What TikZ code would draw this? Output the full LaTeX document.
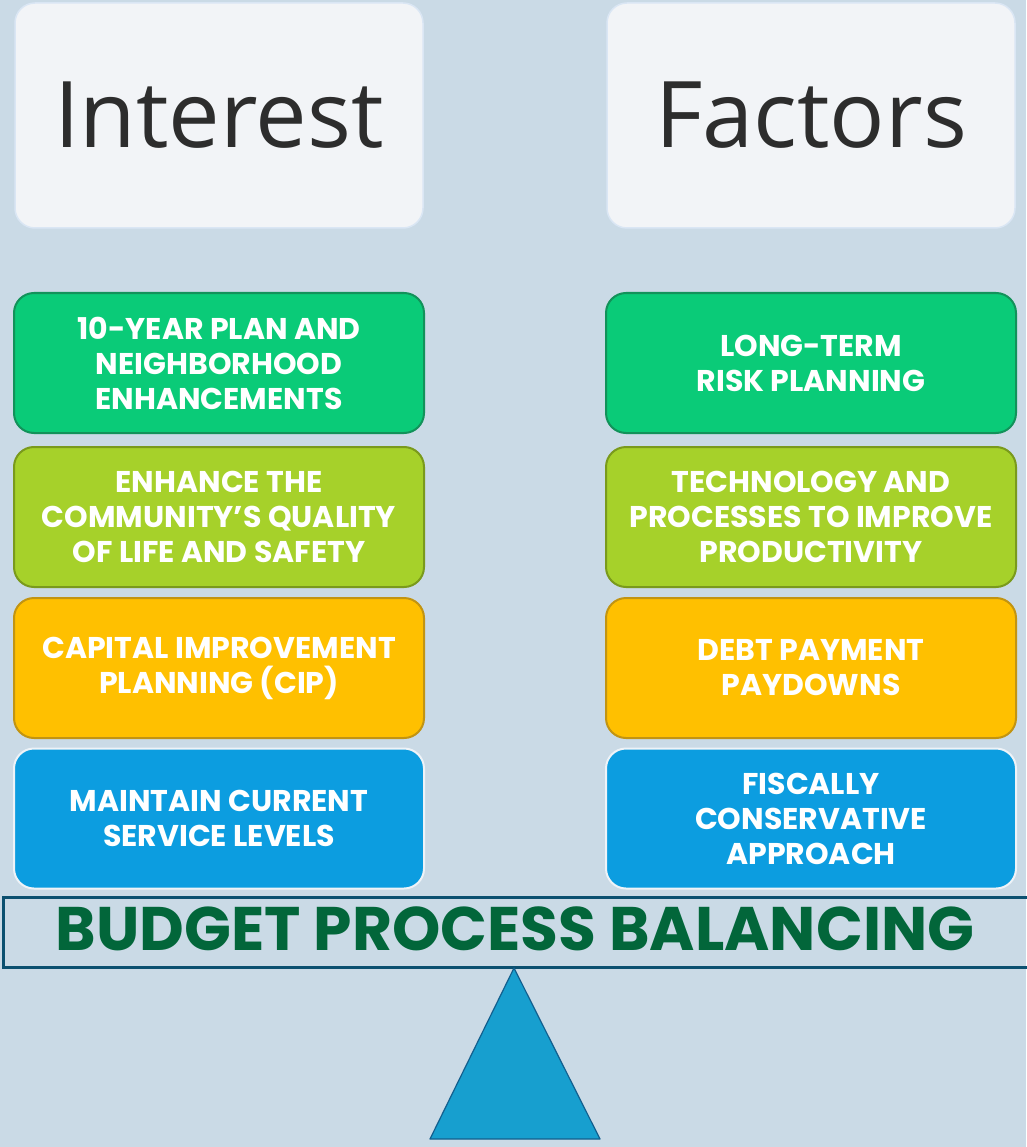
\documentclass[tikz,border=0pt]{standalone}
\usepackage{fontspec}
\setmainfont{Poppins}
\newfontfamily\headfont{Open Sans}

\definecolor{pagebg}{HTML}{CADAE6}
\definecolor{headfill}{HTML}{F2F4F7}
\definecolor{headline}{HTML}{DAE6F4}
\definecolor{headtext}{HTML}{2D2D2D}
\definecolor{greenfill}{HTML}{0ACB78}
\definecolor{greenline}{HTML}{12925A}
\definecolor{limefill}{HTML}{A6D12A}
\definecolor{limeline}{HTML}{7A9A1C}
\definecolor{amberfill}{HTML}{FFC000}
\definecolor{amberline}{HTML}{C29412}
\definecolor{bluefill}{HTML}{0C9DE0}
\definecolor{blueline}{HTML}{EEF3F8}
\definecolor{beamline}{HTML}{0B5070}
\definecolor{beamtext}{HTML}{02663A}
\definecolor{pivotfill}{HTML}{179FCF}
\definecolor{pivotline}{HTML}{125F8E}

\begin{document}
\begin{tikzpicture}[x=1pt,y=-1pt,
    head/.style={rectangle, rounded corners=20pt, fill=headfill, draw=headline, line width=1.5pt,
        minimum width=408pt, minimum height=225pt, inner sep=0pt, text=headtext,
        font=\headfont\fontsize{92}{100}\selectfont},
    box/.style={rectangle, rounded corners=20pt, line width=2pt,
        minimum width=410pt, minimum height=140pt, inner sep=0pt, align=center,
        text=white, font=\fontsize{30}{35}\selectfont\bfseries},
    greenbox/.style={box, fill=greenfill, draw=greenline},
    limebox/.style={box, fill=limefill, draw=limeline},
    amberbox/.style={box, fill=amberfill, draw=amberline},
    bluebox/.style={box, fill=bluefill, draw=blueline},
    beam/.style={rectangle, draw=beamline, line width=3pt, minimum width=1027pt,
        minimum height=70pt, inner sep=0pt},
    beamlabel/.style={text=beamtext, inner sep=0pt, font=\fontsize{61.5}{64}\selectfont\bfseries},
    pivot/.style={fill=pivotfill, draw=pivotline, line width=1.2pt, line join=round}
]
    \fill[pagebg] (0,0) rectangle (1026,1147);
    \useasboundingbox (0,0) rectangle (1026,1147);

    % headings
    \node [head] (interest) at (219,115.5) {Interest};
    \node [head] (factors) at (811,115.5) {Factors};

    % left column
    \node [greenbox] (LA) at (219,363) {10-YEAR PLAN AND\\NEIGHBORHOOD\\ENHANCEMENTS};
    \node [limebox] (LB) at (219,517) {ENHANCE THE\\COMMUNITY{\char"27}S QUALITY\\OF LIFE AND SAFETY};
    \node [amberbox] (LC) at (219,668) {CAPITAL IMPROVEMENT\\PLANNING (CIP)};
    \node [bluebox] (LD) at (219,818.5) {MAINTAIN CURRENT\\SERVICE LEVELS};

    % right column
    \node [greenbox] (RA) at (811,363) {LONG-TERM\\RISK PLANNING};
    \node [limebox] (RB) at (811,517) {TECHNOLOGY AND\\PROCESSES TO IMPROVE\\PRODUCTIVITY};
    \node [amberbox] (RC) at (811,668) {DEBT PAYMENT\\PAYDOWNS};
    \node [bluebox] (RD) at (811,818.5) {FISCALLY\\CONSERVATIVE\\APPROACH};

    % scale
    \node [beam] (bar) at (516.5,932) {};
    \node [beamlabel] (bartext) at (515,929) {BUDGET PROCESS BALANCING};

    \coordinate (apex) at (514,968);
    \coordinate (baseL) at (430,1139);
    \coordinate (baseR) at (600,1139);
    \draw [pivot] (apex) -- (baseL) -- (baseR) -- cycle;
\end{tikzpicture}
\end{document}
